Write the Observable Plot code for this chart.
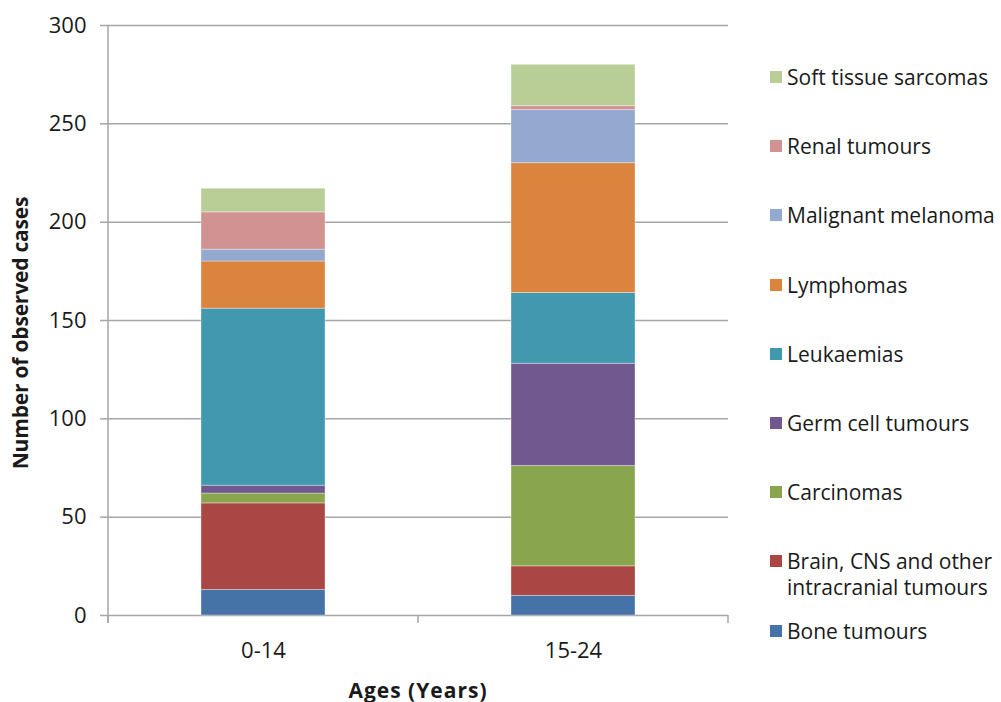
<!DOCTYPE html>
<html><head><meta charset="utf-8">
<script src="https://cdn.jsdelivr.net/npm/d3@7"></script>
<script src="https://cdn.jsdelivr.net/npm/@observablehq/plot@0.6"></script>
<style>
body{margin:0;background:#fff;}
#wrap{position:relative;width:1001px;height:702px;font-family:"Open Sans",sans-serif;color:#1a1a1a;}
.leg{position:absolute;left:770px;font-size:21px;line-height:26px;white-space:nowrap;}
.sw{position:absolute;left:0;top:7px;width:12px;height:12px;}
.leg .t{display:block;margin-left:17px;}
.ytitle{position:absolute;left:20px;top:333px;transform:translate(-50%,-50%) rotate(-90deg);font-weight:bold;font-size:21px;white-space:nowrap;letter-spacing:-0.2px;}
.xtitle{position:absolute;left:418px;top:690px;transform:translate(-50%,-50%);font-weight:bold;font-size:21px;white-space:nowrap;letter-spacing:1px;}
</style></head><body><div id="wrap"></div>
<script>
const ages = ["0-14", "15-24"];
const categories = [
  "Bone tumours",
  "Brain, CNS and other intracranial tumours",
  "Carcinomas",
  "Germ cell tumours",
  "Leukaemias",
  "Lymphomas",
  "Malignant melanoma",
  "Renal tumours",
  "Soft tissue sarcomas"
];
const legendLines = [
  ["Bone tumours"],
  ["Brain, CNS and other", "intracranial tumours"],
  ["Carcinomas"],
  ["Germ cell tumours"],
  ["Leukaemias"],
  ["Lymphomas"],
  ["Malignant melanoma"],
  ["Renal tumours"],
  ["Soft tissue sarcomas"]
];
const values0to14 = [13, 44, 5, 4, 90, 24, 6, 19, 12];
const values15to24 = [10, 15, 51, 52, 36, 66, 27, 2, 21];
const colors = ["#4572A7", "#AA4643", "#89A54E", "#71588F", "#4198AF", "#DB843D", "#93A9CF", "#D19392", "#B9CD96"];
const yTicks = [0, 50, 100, 150, 200, 250, 300];
const xTitle = "Ages (Years)";
const yTitle = "Number of observed cases";

const seriesByAge = [values0to14, values15to24];
const data = [];
ages.forEach((a, i) => categories.forEach((c, j) => data.push({age: a, cat: c, value: seriesByAge[i][j]})));

const gridColor = "#a6a6a6";
const plot = Plot.plot({
  width: 1001, height: 702,
  marginLeft: 108, marginRight: 273, marginTop: 25, marginBottom: 87,
  style: {fontFamily: '"Open Sans", sans-serif', fontSize: "22px", color: "#1a1a1a", background: "transparent", overflow: "visible"},
  x: {domain: ages, paddingInner: 0.6, paddingOuter: 0.3, label: null},
  y: {domain: [0, 300], ticks: yTicks, label: null},
  color: {domain: categories, range: colors},
  marks: [
    Plot.gridY(yTicks, {stroke: gridColor, strokeOpacity: 1, strokeWidth: 1.5}),
    Plot.barY(data, {x: "age", y: "value", fill: "cat", order: categories, stroke: "#fff", strokeOpacity: 0.35, strokeWidth: 1}),
    Plot.axisY(yTicks, {tickSize: 8, tickPadding: 14, stroke: gridColor, strokeWidth: 1.5, fontSize: 22, label: null}),
    Plot.axisX({tickSize: 0, tickPadding: 27, fontSize: 22, label: null})
  ]
});

const wrap = document.getElementById("wrap");
wrap.appendChild(plot);

// axis lines and category-boundary ticks derived from the scales
const xs = plot.scale("x"), ys = plot.scale("y");
const svg = d3.select(plot.tagName === "svg" ? plot : plot.querySelector("svg"));
const y0 = ys.apply(0), yTop = ys.apply(300);
const bw = xs.bandwidth;
const step = xs.step != null ? xs.step : bw / (1 - 0.6);
const g = svg.append("g").attr("stroke", gridColor).attr("stroke-width", 1.5);
const xLeft = xs.apply(ages[0]) - (step - bw) / 2;
g.append("line").attr("x1", xLeft).attr("x2", xLeft).attr("y1", yTop).attr("y2", y0 + 8);
const bounds = ages.map(a => xs.apply(a) - (step - bw) / 2);
bounds.push(xs.apply(ages[ages.length - 1]) + bw + (step - bw) / 2);
bounds.forEach(b => g.append("line").attr("x1", b).attr("x2", b).attr("y1", y0).attr("y2", y0 + 8));

// titles
const yt = document.createElement("div"); yt.className = "ytitle"; yt.textContent = yTitle; wrap.appendChild(yt);
const xt = document.createElement("div"); xt.className = "xtitle"; xt.textContent = xTitle; wrap.appendChild(xt);

// legend (top to bottom = reverse stack order)
const order = categories.map((c, i) => i).reverse();
order.forEach((ci, k) => {
  const d = document.createElement("div");
  d.className = "leg";
  d.style.top = (77 - 13 + k * 69.2) + "px";
  const s = document.createElement("div"); s.className = "sw"; s.style.background = colors[ci]; d.appendChild(s);
  const t = document.createElement("span"); t.className = "t";
  legendLines[ci].forEach((line, li) => {
    if (li > 0) t.appendChild(document.createElement("br"));
    t.appendChild(document.createTextNode(line));
  });
  d.appendChild(t);
  wrap.appendChild(d);
});
</script></body></html>
